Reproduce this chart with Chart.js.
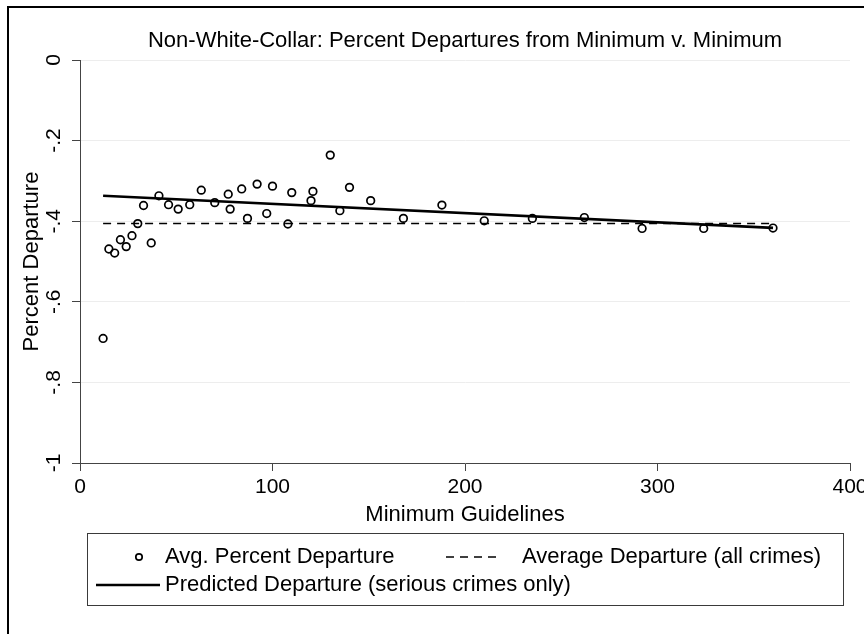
<!DOCTYPE html>
<html>
<head>
<meta charset="utf-8">
<script src="https://cdn.jsdelivr.net/npm/chart.js@4/dist/chart.umd.min.js"></script>
<style>
  html, body { margin: 0; padding: 0; background: #ffffff; }
  canvas { display: block; }
</style>
</head>
<body>
<canvas id="chart" width="864" height="634"></canvas>
<script>
// Guideline minimums (months) and the average percent departure at each one
const minGuidelines = [12, 15, 18, 21, 24, 27, 30, 33, 37, 41, 46, 51, 57, 63, 70, 77, 78, 84, 87, 92,
                       97, 100, 108, 110, 120, 121, 130, 135, 140, 151, 168, 188, 210, 235, 262, 292, 324, 360];
const avgPctDeparture = [-0.691, -0.469, -0.479, -0.446, -0.463, -0.436, -0.406, -0.361, -0.454, -0.337,
                         -0.359, -0.370, -0.359, -0.323, -0.354, -0.333, -0.370, -0.320, -0.393, -0.308,
                         -0.381, -0.313, -0.407, -0.329, -0.349, -0.326, -0.236, -0.374, -0.316, -0.349,
                         -0.393, -0.360, -0.399, -0.393, -0.391, -0.418, -0.418, -0.417];

// Overall average departure (all crimes), drawn across the observed range
const averageDepartureX = [12, 360];
const averageDepartureY = [-0.406, -0.406];

// Fitted line for serious crimes only
const predictedX = [12, 360];
const predictedY = [-0.337, -0.4165];

const xTickValues = [0, 100, 200, 300, 400];
const yTickValues = [-1, -0.8, -0.6, -0.4, -0.2, 0];
const yTickLabels = ['-1', '-.8', '-.6', '-.4', '-.2', '0'];

const chartTitle = 'Non-White-Collar: Percent Departures from Minimum v. Minimum';
const xTitle = 'Minimum Guidelines';
const yTitle = 'Percent Departure';
const legendLabels = ['Avg. Percent Departure', 'Average Departure (all crimes)', 'Predicted Departure (serious crimes only)'];

const FONT = '"Liberation Sans", Arial, Helvetica, sans-serif';
Chart.defaults.font.family = FONT;
Chart.defaults.color = '#000';

const toPoints = (xs, ys) => xs.map((x, i) => ({ x: x, y: ys[i] }));

const DASH = [8, 6];

// Outer frame plus a boxed, two-row legend under the x-axis title
const framePlugin = {
  id: 'frameAndLegend',
  afterDraw(chart) {
    const ctx = chart.ctx;
    const ds = chart.data.datasets;
    ctx.save();

    // frame (left and top edges)
    ctx.strokeStyle = '#000';
    ctx.lineWidth = 2;
    ctx.beginPath();
    ctx.moveTo(8, 634);
    ctx.lineTo(8, 7);
    ctx.lineTo(864, 7);
    ctx.stroke();

    // legend box
    ctx.strokeStyle = '#3a3a3a';
    ctx.lineWidth = 1;
    ctx.strokeRect(87.5, 533.5, 756, 72);

    const row1 = 557, row2 = 585;
    ctx.font = '22px ' + FONT;
    ctx.fillStyle = '#000';
    ctx.textBaseline = 'middle';
    ctx.textAlign = 'left';

    // marker key
    ctx.beginPath();
    ctx.lineWidth = ds[0].borderWidth;
    ctx.strokeStyle = ds[0].borderColor;
    ctx.arc(139, row1, ds[0].pointRadius - 0.6, 0, Math.PI * 2);
    ctx.stroke();
    ctx.fillText(legendLabels[0], 165, row1);

    // dashed key
    ctx.beginPath();
    ctx.lineWidth = ds[1].borderWidth;
    ctx.strokeStyle = ds[1].borderColor;
    ctx.setLineDash(ds[1].borderDash);
    ctx.moveTo(446, row1);
    ctx.lineTo(500, row1);
    ctx.stroke();
    ctx.setLineDash([]);
    ctx.fillText(legendLabels[1], 522, row1);

    // solid key
    ctx.beginPath();
    ctx.lineWidth = ds[2].borderWidth;
    ctx.strokeStyle = ds[2].borderColor;
    ctx.moveTo(96, row2);
    ctx.lineTo(160, row2);
    ctx.stroke();
    ctx.fillText(legendLabels[2], 165, row2);

    ctx.restore();
  }
};

new Chart(document.getElementById('chart'), {
  type: 'scatter',
  data: {
    datasets: [
      {
        label: legendLabels[0],
        data: toPoints(minGuidelines, avgPctDeparture),
        pointStyle: 'circle',
        pointRadius: 3.8,
        borderWidth: 1.7,
        borderColor: '#000',
        backgroundColor: 'rgba(0,0,0,0)',
        order: 3
      },
      {
        label: legendLabels[1],
        data: toPoints(averageDepartureX, averageDepartureY),
        showLine: true,
        pointRadius: 0,
        borderColor: '#000',
        borderWidth: 1.5,
        borderDash: DASH,
        order: 2
      },
      {
        label: legendLabels[2],
        data: toPoints(predictedX, predictedY),
        showLine: true,
        pointRadius: 0,
        borderColor: '#000',
        borderWidth: 2.6,
        order: 1
      }
    ]
  },
  options: {
    responsive: false,
    animation: false,
    devicePixelRatio: 1,
    layout: { padding: { top: 0, left: 0, right: 14, bottom: 101 } },
    plugins: {
      legend: { display: false },
      tooltip: { enabled: false },
      title: {
        display: true,
        text: chartTitle,
        fullSize: false,
        color: '#000',
        font: { size: 22, weight: 'normal' },
        padding: { top: 27.8, bottom: 5.8 }
      }
    },
    scales: {
      x: {
        type: 'linear',
        min: 0,
        max: 400,
        afterBuildTicks: (s) => { s.ticks = xTickValues.map(v => ({ value: v })); },
        afterFit: (s) => { s.height = 70; s.paddingLeft = 0; s.paddingRight = 0; },
        ticks: {
          autoSkip: false,
          maxRotation: 0,
          padding: 4,
          color: '#000',
          font: { size: 21 },
          callback: (v) => String(v)
        },
        grid: { drawOnChartArea: false, drawTicks: true, tickLength: 8, tickColor: '#444' },
        border: { display: true, color: '#444', width: 1 },
        title: {
          display: true,
          text: xTitle,
          color: '#000',
          font: { size: 22 },
          padding: { top: 0, bottom: 4.8 }
        }
      },
      y: {
        type: 'linear',
        min: -1,
        max: 0,
        afterBuildTicks: (s) => { s.ticks = yTickValues.map(v => ({ value: v })); },
        afterFit: (s) => { s.width = 80; },
        ticks: {
          autoSkip: false,
          minRotation: 90,
          maxRotation: 90,
          crossAlign: 'center',
          padding: 6,
          color: '#000',
          font: { size: 21 },
          callback: (v) => {
            const i = yTickValues.findIndex(t => Math.abs(t - v) < 1e-9);
            return i >= 0 ? yTickLabels[i] : '';
          }
        },
        grid: { color: '#ededed', lineWidth: 1, drawTicks: true, tickLength: 8, tickColor: '#444' },
        border: { display: true, color: '#444', width: 1 },
        title: {
          display: true,
          text: yTitle,
          color: '#000',
          font: { size: 22 },
          padding: { top: 18.8, bottom: 0 }
        }
      }
    }
  },
  plugins: [framePlugin]
});
</script>
</body>
</html>
